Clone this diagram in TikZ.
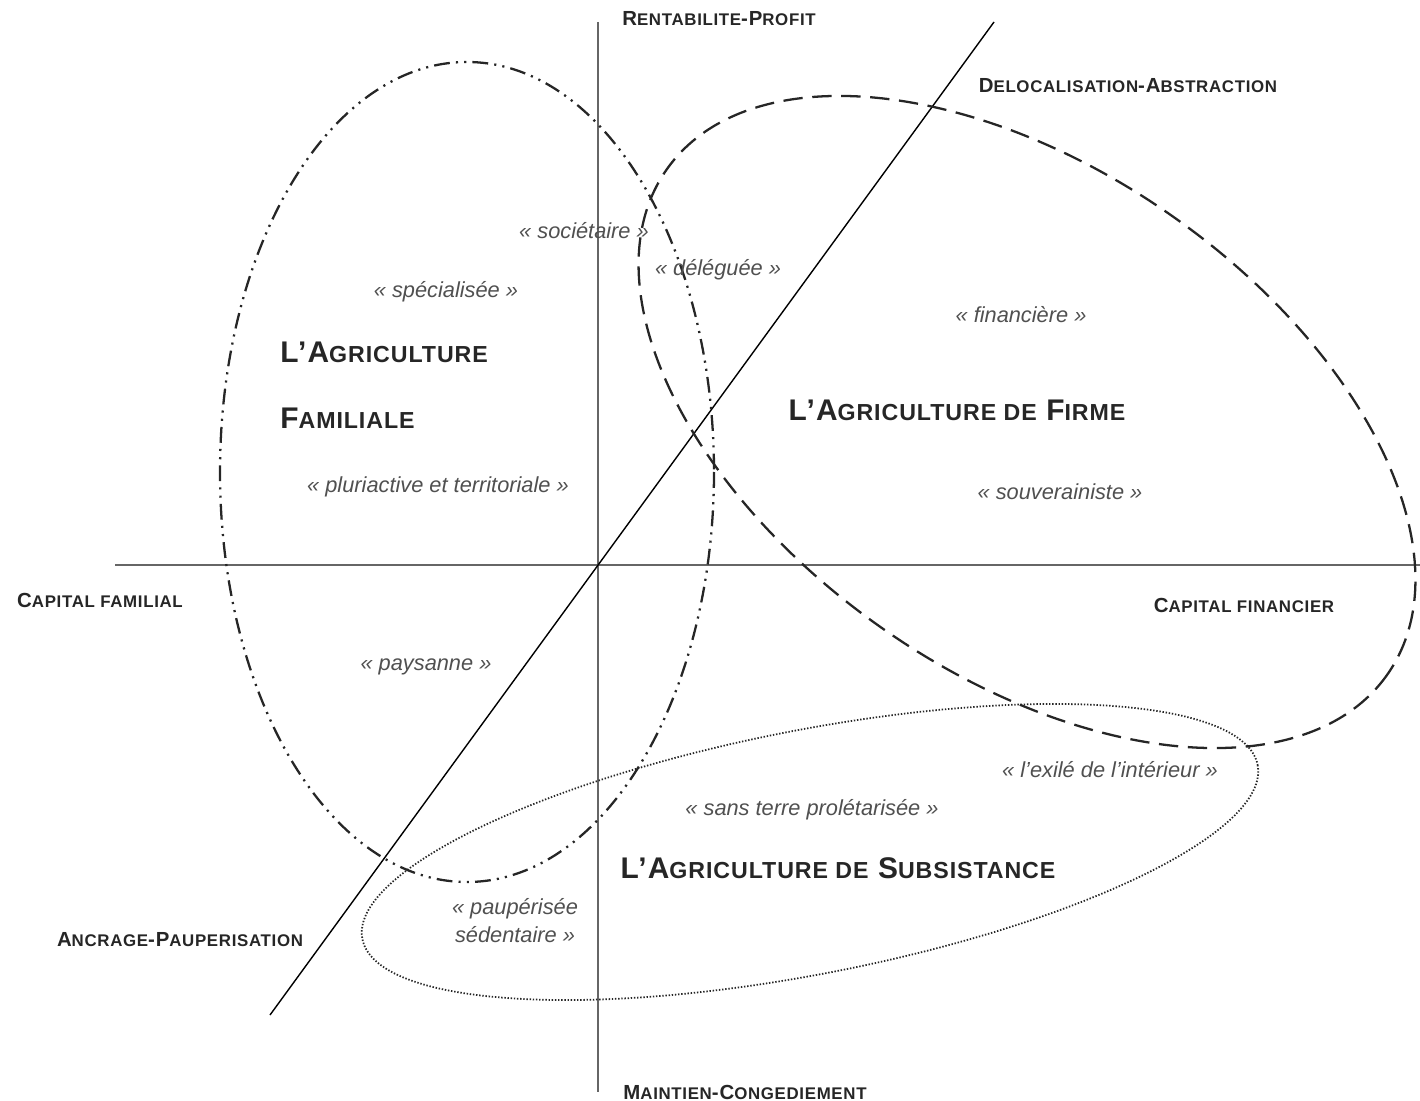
\documentclass[tikz,border=0pt]{standalone}
\usepackage{fontspec}
\setmainfont{Liberation Sans}
\newfontfamily\capsfont[LetterSpace=4]{Liberation Sans}
\newcommand\axsc[1]{{\fontsize{9.6}{11}\selectfont #1}}
\newcommand\titsc[1]{{\fontsize{13.2}{15}\selectfont #1}}
\definecolor{axegris}{HTML}{666666}
\definecolor{textegris}{HTML}{505050}
\definecolor{titregris}{HTML}{262626}
\begin{document}
\begin{tikzpicture}[x=0.02cm, y=-0.02cm,
    axe/.style={draw=axegris, line width=1.2pt},
    diag/.style={draw=black, line width=0.8pt},
    famille/.style={draw=black!85, line width=1.3pt, dash pattern=on 9pt off 3.5pt on 1.2pt off 3.5pt on 1.2pt off 3.5pt},
    firme/.style={draw=black!85, line width=1.3pt, dash pattern=on 11pt off 5.5pt},
    subsist/.style={draw=black!85, line width=1pt, dash pattern=on 0.8pt off 1pt},
    pole/.style={font=\capsfont\bfseries\fontsize{11.6}{13}\selectfont, text=titregris},
    titre/.style={font=\capsfont\bfseries\fontsize{17}{19}\selectfont, text=titregris, inner sep=0pt},
    type/.style={font=\itshape\fontsize{12.4}{16}\selectfont, text=textegris}]
    \useasboundingbox (0, 0) rectangle (1420, 1101) ;
    \coordinate (haut) at (598, 22) ;
    \coordinate (bas) at (598, 1092) ;
    \coordinate (gauche) at (115, 565) ;
    \coordinate (droite) at (1420, 565) ;
    \coordinate (ancre) at (270, 1015) ;
    \coordinate (abstr) at (994, 22) ;
    \draw[axe] (haut) -- (bas) ;
    \draw[axe] (gauche) -- (droite) ;
    \draw[diag] (ancre) -- (abstr) ;
    \draw[famille] (467, 472) ellipse [x radius=247, y radius=410] ;
    \draw[firme, shift={(1027, 422)}, rotate=-35] (0, 0) ellipse [x radius=440, y radius=252] ;
    \draw[subsist, shift={(810, 852)}, rotate=11] (0, 0) ellipse [x radius=456, y radius=122] ;
    \node[pole] (rentab) at (719, 19) {R\axsc{ENTABILITE}-P\axsc{ROFIT}} ;
    \node[pole] (deloc) at (1128, 86) {D\axsc{ELOCALISATION}-A\axsc{BSTRACTION}} ;
    \node[pole] (capfam) at (100, 600) {C\axsc{APITAL FAMILIAL}} ;
    \node[pole] (capfin) at (1244, 605) {C\axsc{APITAL FINANCIER}} ;
    \node[pole] (ancrage) at (180, 940) {A\axsc{NCRAGE}-P\axsc{AUPERISATION}} ;
    \node[pole] (maintien) at (745, 1092) {M\axsc{AINTIEN}-C\axsc{ONGEDIEMENT}} ;
    \node[titre, anchor=west] (agrifam) at (280, 352) {L’A\titsc{GRICULTURE}} ;
    \node[titre, anchor=west] (familiale) at (280, 418) {F\titsc{AMILIALE}} ;
    \node[titre] (agrifirme) at (957, 410) {L’A\titsc{GRICULTURE DE} F\titsc{IRME}} ;
    \node[titre] (agrisub) at (838, 868) {L’A\titsc{GRICULTURE DE} S\titsc{UBSISTANCE}} ;
    \node[type] (societaire) at (584, 231) {« sociétaire »} ;
    \node[type] (deleguee) at (718, 270) {« déléguée »} ;
    \node[type] (specialisee) at (446, 292) {« spécialisée »} ;
    \node[type] (financiere) at (1021, 315) {« financière »} ;
    \node[type] (pluriactive) at (438, 487) {« pluriactive et territoriale »} ;
    \node[type] (souverain) at (1060, 492) {« souverainiste »} ;
    \node[type] (paysanne) at (426, 667) {« paysanne »} ;
    \node[type] (exile) at (1110, 770) {« l’exilé de l’intérieur »} ;
    \node[type] (sansterre) at (812, 810) {« sans terre prolétarisée »} ;
    \node[type, align=center] (pauperisee) at (515, 921) {« paupérisée\\sédentaire »} ;
\end{tikzpicture}
\end{document}
